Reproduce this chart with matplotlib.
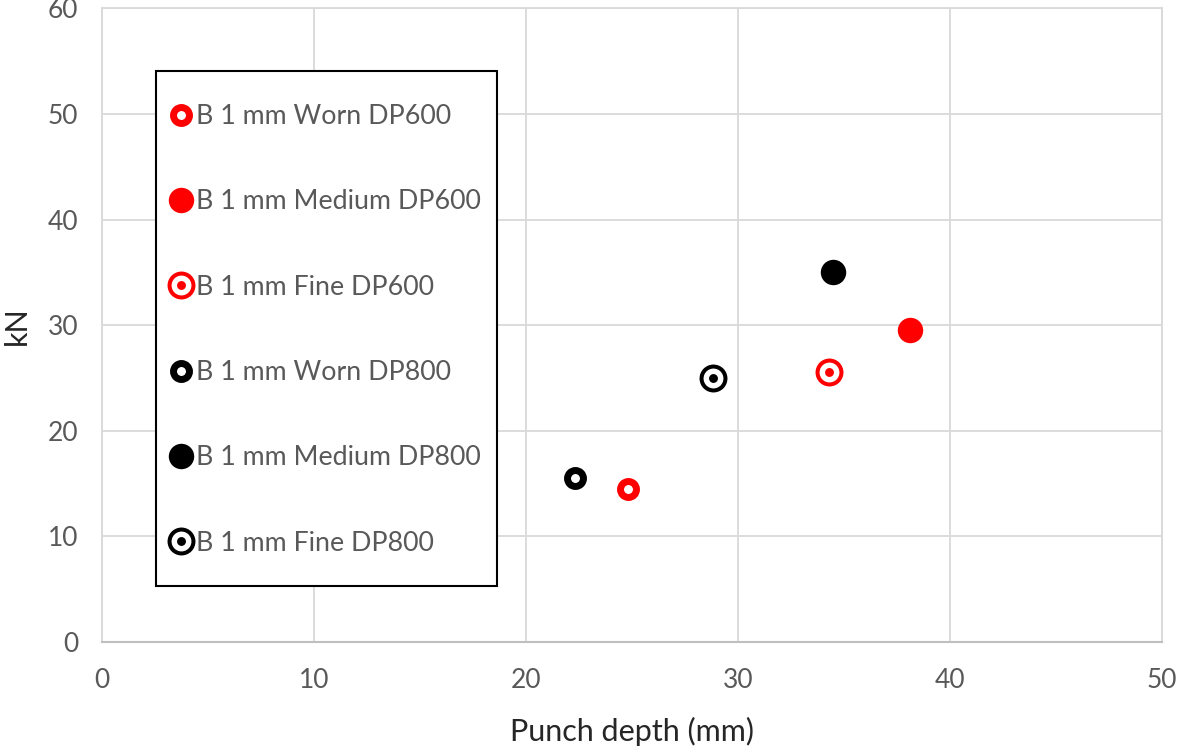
import matplotlib
matplotlib.use("Agg")
import matplotlib.pyplot as plt
from matplotlib.lines import Line2D
from matplotlib.patches import Rectangle
from matplotlib.legend_handler import HandlerTuple

plt.rcParams['font.family'] = ['Lato', 'DejaVu Sans']

# Punch force vs. punch depth for each tool condition
series_labels = [
    "B 1 mm Worn DP600",
    "B 1 mm Medium DP600",
    "B 1 mm Fine DP600",
    "B 1 mm Worn DP800",
    "B 1 mm Medium DP800",
    "B 1 mm Fine DP800",
]
punch_depth = [24.8, 38.1, 34.3, 22.3, 34.5, 28.8]
force_kn = [14.5, 29.5, 25.6, 15.5, 35.0, 25.0]
colors = ["#FF0000", "#FF0000", "#FF0000", "#000000", "#000000", "#000000"]
styles = ["worn", "medium", "fine", "worn", "medium", "fine"]

x_ticks = [0, 10, 20, 30, 40, 50]
y_ticks = [0, 10, 20, 30, 40, 50, 60]

fig = plt.figure(figsize=(11.82, 7.46), dpi=100)
ax = fig.add_axes([0.0863, 0.1394, 0.8968, 0.8493])


def marker_kwargs(style, color):
    """Return one or more sets of Line2D kwargs that build the marker."""
    if style == "worn":
        return [dict(marker="o", markersize=11.5, markerfacecolor="white",
                     markeredgecolor=color, markeredgewidth=5.0)]
    if style == "medium":
        return [dict(marker="o", markersize=18.3, markerfacecolor=color,
                     markeredgecolor=color, markeredgewidth=0)]
    return [dict(marker="o", markersize=17.2, markerfacecolor="white",
                 markeredgecolor=color, markeredgewidth=2.9),
            dict(marker="o", markersize=6.4, markerfacecolor=color,
                 markeredgecolor=color, markeredgewidth=0)]


handles = []
for x, y, c, s, lab in zip(punch_depth, force_kn, colors, styles, series_labels):
    parts = []
    for kw in marker_kwargs(s, c):
        ax.plot([x], [y], linestyle="none", zorder=3, **kw)
        parts.append(Line2D([], [], linestyle="none", **kw))
    handles.append(tuple(parts))

ax.set_xlim(0, 50)
ax.set_ylim(0, 60)
ax.set_xticks(x_ticks)
ax.set_yticks(y_ticks)
ax.grid(True, color="#D9D9D9", linewidth=1.3)
ax.set_axisbelow(True)
for side in ["top", "left", "right"]:
    ax.spines[side].set_color("#D9D9D9")
    ax.spines[side].set_linewidth(1.3)
ax.spines["bottom"].set_color("#BFBFBF")
ax.spines["bottom"].set_linewidth(1.5)
ax.tick_params(axis="both", length=0, labelsize=19, labelcolor="#595959")
ax.tick_params(axis="y", pad=17)
ax.tick_params(axis="x", pad=19)

ax.set_xlabel("Punch depth (mm)", fontsize=22, color="#262626", labelpad=17)
ax.set_ylabel("kN", fontsize=22, color="#262626", labelpad=12)

# Legend box drawn as its own frame, entries placed inside it
ax.add_patch(Rectangle((0.0509, 0.0883), 0.3217, 0.8123, transform=ax.transAxes,
                       facecolor="white", edgecolor="black", linewidth=1.5,
                       zorder=4))
leg = ax.legend(handles, series_labels,
                handler_map={tuple: HandlerTuple(ndivide=1, pad=0)},
                loc="upper left", bbox_to_anchor=(0.0632, 0.849),
                fontsize=19.3, labelcolor="#595959", frameon=False,
                borderpad=0, labelspacing=2.25, handlelength=0.9,
                handletextpad=0.12, borderaxespad=0)
leg.set_zorder(5)

fig.savefig("out.png", dpi=100)
